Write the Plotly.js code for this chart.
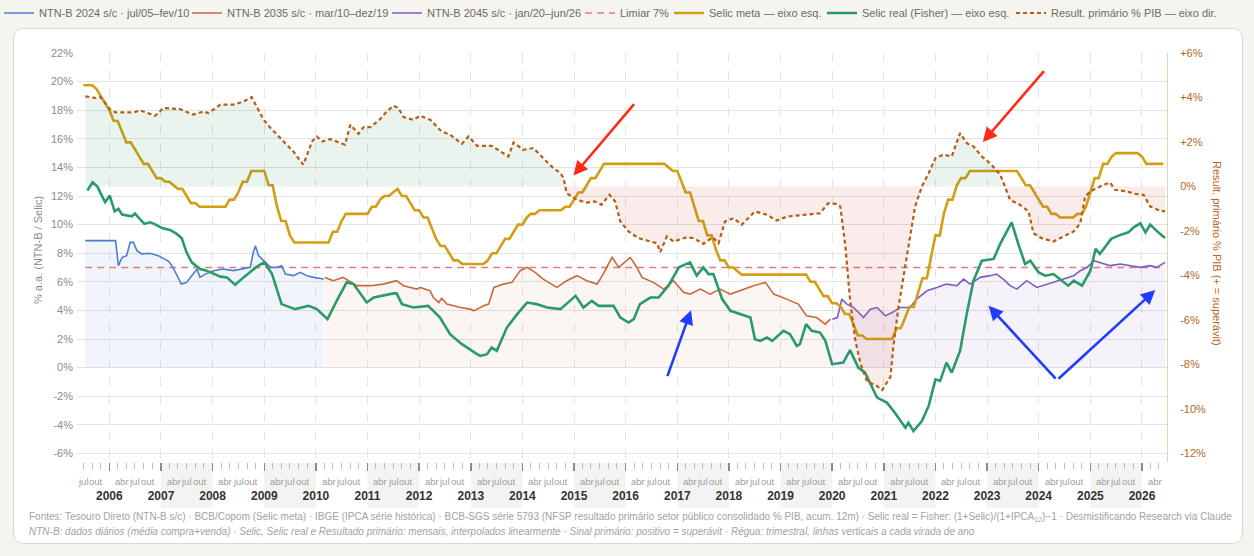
<!DOCTYPE html>
<html><head><meta charset="utf-8">
<script src="https://cdn.plot.ly/plotly-3.0.1.min.js"></script>
<style>
html,body{margin:0;padding:0;background:#f5f4ef;}
#wrap{position:relative;width:1254px;height:556px;overflow:hidden;}
#card{position:absolute;left:13px;top:28px;width:1230px;height:516px;background:#fff;border:1px solid #dcdad2;border-radius:10px;box-sizing:border-box;}
#chart{position:absolute;left:0;top:0;width:1254px;height:556px;}
</style></head>
<body><div id="wrap"><div id="card"></div><div id="chart"></div></div>
<script>
// ---------------- DATA ----------------
const X_RANGE = ['2005-05-17', '2026-06-27'];

// Selic meta, monthly from 2005-07
const selicStartYear = 2005, selicStartMonth = 7;
const selicMeta = [
  19.75,19.75,19.75,19.50,19.00,18.50,
  18.00,17.25,17.25,16.50,15.75,15.75,15.25,14.75,14.25,14.25,13.75,13.25,
  13.25,13.00,13.00,12.75,12.50,12.50,12.00,11.50,11.50,11.25,11.25,11.25,
  11.25,11.25,11.25,11.25,11.75,11.75,12.25,13.00,13.00,13.75,13.75,13.75,
  13.75,12.75,12.75,11.25,10.25,10.25,9.25,8.75,8.75,8.75,8.75,8.75,
  8.75,8.75,8.75,8.75,9.50,9.50,10.25,10.75,10.75,10.75,10.75,10.75,
  10.75,11.25,11.25,11.75,12.00,12.00,12.25,12.50,12.00,12.00,11.50,11.00,
  11.00,10.50,10.50,9.75,9.00,8.50,8.50,8.00,7.50,7.50,7.25,7.25,
  7.25,7.25,7.25,7.25,7.50,8.00,8.00,8.50,9.00,9.00,9.50,10.00,
  10.00,10.50,10.75,10.75,11.00,11.00,11.00,11.00,11.00,11.00,11.25,11.25,
  11.75,12.25,12.25,12.75,13.25,13.25,13.75,14.25,14.25,14.25,14.25,14.25,
  14.25,14.25,14.25,14.25,14.25,14.25,14.25,14.25,14.25,14.25,14.00,13.75,
  13.75,13.00,12.25,12.25,11.25,10.25,10.25,9.25,9.25,8.25,7.50,7.50,
  7.00,7.00,6.75,6.50,6.50,6.50,6.50,6.50,6.50,6.50,6.50,6.50,
  6.50,6.50,6.50,6.50,6.50,6.50,6.50,6.00,6.00,5.50,5.00,5.00,
  4.50,4.50,4.25,3.75,3.75,3.00,2.25,2.25,2.00,2.00,2.00,2.00,
  2.00,2.00,2.00,2.75,2.75,3.50,4.25,4.25,5.25,6.25,6.25,7.75,
  9.25,9.25,10.75,11.75,11.75,12.75,13.25,13.25,13.75,13.75,13.75,13.75,
  13.75,13.75,13.75,13.75,13.75,13.75,13.75,13.75,13.25,12.75,12.75,12.25,
  11.75,11.25,11.25,10.75,10.75,10.50,10.50,10.50,10.50,10.75,10.75,11.25,
  12.25,13.25,13.25,14.25,14.25,14.75,15.00,15.00,15.00,15.00,15.00,15.00,
  14.75,14.25,14.25,14.25,14.25,14.25
];

// Selic real (Fisher)
const realDates = ['2005-07-29','2005-09-05','2005-10-08','2005-12-02','2006-01-04','2006-02-07','2006-03-06','2006-04-01','2006-06-09','2006-07-01','2006-09-05','2006-10-15','2006-11-14','2007-01-08','2007-03-06','2007-04-22','2007-05-28','2007-07-01','2007-08-07','2007-10-04','2007-11-21','2008-02-25','2008-04-11','2008-06-09','2008-08-07','2008-11-10','2009-01-01','2009-02-25','2009-05-03','2009-07-04','2009-08-07','2009-11-10','2010-01-08','2010-03-24','2010-04-22','2010-06-09','2010-08-07','2010-09-24','2010-12-27','2011-02-14','2011-07-04','2011-07-26','2011-09-02','2011-11-21','2012-03-06','2012-05-28','2012-08-07','2012-10-30','2013-02-14','2013-03-09','2013-04-26','2013-05-28','2013-07-04','2013-09-13','2013-11-25','2014-02-03','2014-04-11','2014-06-24','2014-09-27','2015-01-12','2015-03-09','2015-05-07','2015-06-24','2015-10-08','2015-11-25','2016-01-22','2016-02-28','2016-04-11','2016-06-24','2016-08-21','2016-10-30','2017-01-12','2017-04-01','2017-05-18','2017-07-04','2017-08-10','2017-09-13','2017-11-14','2018-01-12','2018-03-20','2018-06-02','2018-07-04','2018-08-10','2018-09-27','2018-11-03','2019-01-22','2019-03-09','2019-04-26','2019-05-18','2019-07-01','2019-08-10','2019-10-08','2019-11-14','2020-01-01','2020-03-20','2020-05-07','2020-07-04','2020-08-21','2020-11-14','2021-01-22','2021-03-20','2021-06-02','2021-06-24','2021-07-29','2021-09-27','2021-11-14','2022-01-01','2022-02-03','2022-03-20','2022-04-26','2022-06-24','2022-08-10','2022-09-27','2022-11-25','2023-02-17','2023-04-04','2023-05-07','2023-06-24','2023-08-10','2023-09-27','2023-11-03','2024-01-01','2024-02-17','2024-04-15','2024-06-13','2024-07-29','2024-09-05','2024-11-03','2025-01-01','2025-02-07','2025-03-09','2025-04-15','2025-05-28','2025-07-19','2025-09-27','2025-11-03','2025-12-20','2026-01-26','2026-02-28','2026-04-26','2026-06-13'];
const realValues = [12.38,12.96,12.66,11.56,12.03,10.93,11.10,10.70,10.58,10.77,10.05,10.16,10.05,9.77,9.63,9.35,9.04,8.06,7.36,6.90,6.78,6.36,6.31,5.80,6.31,7.06,7.36,6.54,4.44,4.20,4.09,4.32,4.09,3.39,3.97,4.90,5.96,5.84,4.55,4.90,5.19,5.19,4.44,4.20,4.32,3.50,2.34,1.64,0.94,0.82,0.94,1.40,1.17,2.80,3.74,4.55,4.44,4.20,4.09,5.02,4.20,4.67,4.32,4.32,3.50,3.15,3.39,4.44,4.90,4.90,5.73,7.01,7.36,6.43,7.01,6.54,6.54,4.79,3.97,3.74,3.50,1.99,1.87,2.10,1.87,2.57,2.34,1.52,1.64,3.04,2.57,2.45,1.87,0.24,0.35,1.22,0.00,-0.35,-2.10,-2.45,-3.15,-4.20,-3.85,-4.44,-3.74,-2.68,-0.82,-0.93,0.35,-0.35,1.17,3.74,6.08,7.48,7.60,8.65,9.23,10.16,8.65,7.25,7.48,6.66,6.43,6.54,6.08,5.73,6.08,5.73,6.78,8.30,7.95,8.41,9.00,9.23,9.46,9.81,10.09,9.46,10.00,9.46,9.07];

// Resultado primário % PIB (eixo dir.)
const primDates = ['2005-07-15','2005-09-24','2005-10-30','2006-01-08','2006-02-14','2006-06-20','2006-08-07','2006-09-24','2006-11-21','2007-01-19','2007-05-14','2007-08-18','2007-10-30','2007-12-02','2008-02-25','2008-05-28','2008-08-07','2008-10-04','2008-12-27','2009-02-14','2009-05-18','2009-07-26','2009-10-04','2009-12-05','2010-01-08','2010-02-14','2010-04-11','2010-07-26','2010-09-02','2010-10-30','2010-12-05','2011-01-22','2011-04-01','2011-05-18','2011-07-04','2011-08-07','2011-09-13','2011-11-21','2012-01-08','2012-03-20','2012-06-09','2012-08-07','2012-10-30','2012-12-16','2013-02-14','2013-05-28','2013-09-24','2013-10-30','2014-01-08','2014-03-20','2014-05-28','2014-07-26','2014-09-27','2014-10-19','2014-11-10','2015-01-22','2015-04-01','2015-05-28','2015-07-15','2015-09-09','2015-10-19','2015-11-25','2016-01-22','2016-04-01','2016-06-24','2016-08-10','2016-09-02','2016-10-19','2016-12-05','2017-03-09','2017-04-26','2017-07-04','2017-09-09','2017-10-19','2017-12-05','2018-02-03','2018-04-01','2018-07-04','2018-09-27','2018-12-05','2019-02-17','2019-06-13','2019-10-08','2019-12-05','2020-02-03','2020-02-28','2020-04-04','2020-05-07','2020-06-13','2020-07-19','2020-09-05','2020-11-03','2020-12-20','2021-02-17','2021-03-09','2021-04-15','2021-05-21','2021-06-24','2021-08-10','2021-09-27','2021-11-14','2022-01-01','2022-02-28','2022-04-26','2022-06-24','2022-08-10','2022-09-27','2022-11-25','2023-01-22','2023-04-04','2023-05-07','2023-06-13','2023-08-21','2023-10-22','2023-11-25','2024-01-22','2024-04-15','2024-06-24','2024-09-05','2024-10-22','2024-11-25','2025-01-01','2025-02-17','2025-04-04','2025-05-21','2025-06-24','2025-09-16','2025-11-14','2026-01-12','2026-02-28','2026-05-07','2026-06-13'];
const primValues = [4.05,3.98,4.02,3.45,3.33,3.33,3.42,3.30,3.18,3.53,3.48,3.23,3.37,3.30,3.68,3.68,3.82,4.02,3.00,2.63,2.02,1.57,0.98,2.02,2.25,2.02,2.13,1.88,2.78,2.37,2.67,2.67,3.03,3.37,3.63,3.53,3.12,3.00,3.18,3.00,2.47,2.33,1.92,2.25,1.83,1.83,1.35,1.98,1.65,1.73,1.28,0.90,0.60,0.38,-0.30,-0.60,-0.72,-0.67,-0.82,-0.37,-0.67,-1.57,-2.02,-2.32,-2.47,-2.55,-2.95,-2.25,-2.47,-2.28,-2.32,-2.58,-2.28,-2.55,-1.57,-1.42,-1.72,-1.12,-1.27,-1.53,-1.35,-1.27,-1.20,-0.75,-0.78,-0.90,-2.70,-5.10,-6.90,-7.95,-8.77,-8.92,-9.15,-8.55,-7.20,-5.40,-3.90,-2.70,-0.90,0.00,0.60,1.28,1.43,1.35,2.40,1.95,1.80,1.35,1.05,0.53,0.00,-0.60,-0.82,-1.12,-2.10,-2.32,-2.47,-2.25,-2.02,-1.65,-0.45,-0.22,-0.07,0.08,0.18,-0.15,-0.22,-0.33,-0.37,-0.90,-1.08,-1.12];

// NTN-B 2024 s/c (jul/05–fev/10)
const ntnb24Dates = ['2005-07-14','2006-02-14','2006-03-06','2006-04-01','2006-05-03','2006-05-28','2006-06-20','2006-07-15','2006-08-18','2006-10-15','2006-12-13','2007-02-25','2007-03-27','2007-05-04','2007-05-25','2007-07-01','2007-08-18','2007-09-13','2007-10-04','2007-11-10','2008-01-08','2008-03-17','2008-05-28','2008-08-07','2008-09-24','2008-10-15','2008-10-30','2008-11-21','2008-12-27','2009-02-14','2009-04-01','2009-05-03','2009-05-30','2009-07-26','2009-09-13','2009-10-30','2009-12-16','2010-02-14','2010-02-26'];
const ntnb24Values = [8.88,8.88,7.13,7.71,7.83,8.76,8.76,8.18,7.95,7.99,7.83,7.43,7.01,6.19,5.84,5.96,6.54,6.90,6.31,6.54,6.78,6.90,6.78,6.90,7.01,8.06,8.53,7.83,7.48,7.01,7.01,7.13,6.54,6.43,6.66,6.43,6.31,6.19,6.20];

// NTN-B 2035 s/c (mar/10–dez/19)
const ntnb35Dates = ['2010-03-05','2010-05-04','2010-07-12','2010-10-19','2011-01-22','2011-04-22','2011-07-26','2011-09-13','2011-12-16','2012-01-08','2012-03-20','2012-04-11','2012-05-20','2012-06-09','2012-07-16','2012-09-02','2012-10-19','2012-12-28','2013-01-22','2013-04-01','2013-05-07','2013-06-13','2013-08-21','2013-10-19','2013-12-16','2014-02-03','2014-04-01','2014-05-28','2014-09-02','2014-11-10','2015-01-22','2015-04-01','2015-06-13','2015-07-26','2015-09-27','2015-11-14','2016-02-03','2016-03-20','2016-04-26','2016-07-15','2016-09-27','2016-12-05','2017-02-14','2017-04-01','2017-06-13','2017-08-21','2017-10-30','2018-01-12','2018-03-20','2018-06-24','2018-09-16','2018-11-14','2019-02-14','2019-05-07','2019-07-04','2019-09-13','2019-11-14','2019-12-20'];
const ntnb35Values = [6.31,6.08,6.31,5.73,5.73,5.84,6.08,5.73,5.49,5.61,5.37,4.90,4.55,4.85,4.44,4.32,4.20,4.09,3.97,4.32,4.44,5.61,5.84,5.96,6.78,7.01,6.66,6.19,5.61,6.08,6.43,6.08,5.84,6.54,7.71,7.01,7.71,7.01,6.31,5.96,5.49,6.08,5.26,5.14,5.49,5.14,5.49,5.14,5.37,5.73,5.96,5.14,4.79,4.44,3.62,3.50,3.04,3.39];

// NTN-B 2045 s/c (jan/20–jun/26)
const ntnb45Dates = ['2020-01-02','2020-02-07','2020-03-09','2020-04-15','2020-06-02','2020-07-19','2020-08-10','2020-09-27','2020-11-14','2021-01-12','2021-02-28','2021-04-26','2021-07-04','2021-08-21','2021-11-02','2022-01-12','2022-03-20','2022-06-02','2022-07-19','2022-09-02','2022-11-14','2023-01-22','2023-03-09','2023-04-26','2023-06-13','2023-07-31','2023-10-08','2023-12-20','2024-02-28','2024-05-07','2024-07-19','2024-09-05','2024-10-22','2024-12-09','2025-01-26','2025-03-09','2025-05-21','2025-07-31','2025-10-08','2025-12-20','2026-02-28','2026-04-15','2026-06-13'];
const ntnb45Values = [3.39,3.50,4.79,4.44,4.20,3.74,3.50,4.09,4.20,3.62,3.85,4.20,4.20,4.79,5.37,5.61,5.84,5.73,6.19,5.84,6.31,6.43,6.54,6.19,5.73,5.49,6.08,5.61,5.84,6.08,6.31,6.43,6.78,7.01,7.48,7.36,7.13,7.25,7.13,7.01,7.13,7.01,7.36];

const limiar = 7;
const leftTicks = [-6,-4,-2,0,2,4,6,8,10,12,14,16,18,20,22];
const rightTicks = [-12,-10,-8,-6,-4,-2,0,2,4,6];
const monthLabels = [[4,'abr'],[7,'jul'],[10,'out']];
const shadedYears = [2007,2009,2011,2013,2015,2017,2019,2021,2023,2025];

// Hand-drawn arrows: [tailDate, tailValue, headDate, headValue, color]
const arrows = [
  ['2016-03-10', 18.53, '2014-12-28', 13.43, '#ff2b18'],
  ['2024-02-17', 20.84, '2022-12-02', 15.77, '#ff2b18'],
  ['2016-10-19', -0.70, '2017-04-08', 4.02, '#1f3cff'],
  ['2024-05-10', -0.88, '2023-01-12', 4.32, '#1f3cff'],
  ['2024-05-10', -0.88, '2026-04-05', 5.42, '#1f3cff']
];

const names = {
  n24: 'NTN-B 2024 s/c · jul/05–fev/10',
  n35: 'NTN-B 2035 s/c · mar/10–dez/19',
  n45: 'NTN-B 2045 s/c · jan/20–jun/26',
  lim: 'Limiar 7%',
  selic: 'Selic meta — eixo esq.',
  real: 'Selic real (Fisher) — eixo esq.',
  prim: 'Result. primário % PIB — eixo dir.'
};
const colors = {
  n24: '#4a7fd0', n35: '#c9673b', n45: '#7d5cc2', lim: '#e27d7d',
  selic: '#d19e14', real: '#2b9a69', prim: '#b55f16', rightAxis: '#b8651e'
};

// ---------------- BUILD ----------------
function monthDates(y, m, n) {
  const out = [];
  for (let i = 0; i < n; i++) {
    const yy = y + Math.floor((m - 1 + i) / 12);
    const mm = (m - 1 + i) % 12 + 1;
    out.push(yy + '-' + String(mm).padStart(2, '0') + '-01');
  }
  return out;
}
const selicDates = monthDates(selicStartYear, selicStartMonth, selicMeta.length);
const primPos = primValues.map(v => Math.max(v, 0));
const primNeg = primValues.map(v => Math.min(v, 0));

const fillTrace = (x, y, color, yaxis) => ({
  x, y, type: 'scatter', mode: 'lines', fill: 'tozeroy', fillcolor: color,
  line: {width: 0, color: 'rgba(0,0,0,0)'}, showlegend: false, hoverinfo: 'skip', yaxis: yaxis || 'y'
});

const traces = [
  fillTrace(primDates, primPos, 'rgba(46,150,100,0.10)', 'y2'),
  fillTrace(primDates, primNeg, 'rgba(200,85,60,0.11)', 'y2'),
  fillTrace(ntnb24Dates, ntnb24Values, 'rgba(74,127,208,0.08)'),
  fillTrace(ntnb35Dates, ntnb35Values, 'rgba(201,103,59,0.06)'),
  fillTrace(ntnb45Dates, ntnb45Values, 'rgba(125,92,194,0.08)'),
  {x: [ntnb24Dates[0], ntnb45Dates[ntnb45Dates.length - 1]], y: [limiar, limiar], type: 'scatter', mode: 'lines',
   name: names.lim, legend: 'legend4', line: {color: colors.lim, width: 1.3, dash: '7px,5px'}},
  {x: ntnb24Dates, y: ntnb24Values, type: 'scatter', mode: 'lines', name: names.n24, legend: 'legend',
   line: {color: colors.n24, width: 1.6}},
  {x: ntnb35Dates, y: ntnb35Values, type: 'scatter', mode: 'lines', name: names.n35, legend: 'legend2',
   line: {color: colors.n35, width: 1.6}},
  {x: ntnb45Dates, y: ntnb45Values, type: 'scatter', mode: 'lines', name: names.n45, legend: 'legend3',
   line: {color: colors.n45, width: 1.6}},
  {x: selicDates, y: selicMeta, type: 'scatter', mode: 'lines', name: names.selic, legend: 'legend5',
   line: {color: colors.selic, width: 2.6}},
  {x: realDates, y: realValues, type: 'scatter', mode: 'lines', name: names.real, legend: 'legend6',
   line: {color: colors.real, width: 2.6}},
  {x: primDates, y: primValues, type: 'scatter', mode: 'lines', name: names.prim, legend: 'legend7', yaxis: 'y2',
   line: {color: colors.prim, width: 2.2, dash: '4px,3px'}}
];

// plot geometry (px) used to place texts outside plot
const L = 77, R = 87, T = 53, B = 94, W = 1254, H = 556;
const PW = W - L - R, PH = H - T - B;
const px2x = p => (p - L) / PW;
const px2y = p => (H - B - p) / PH;

const legendTextStarts = [39, 227, 427, 620, 709, 862, 1051];
const legendIds = ['legend','legend2','legend3','legend4','legend5','legend6','legend7'];

const layout = {
  width: W, height: H,
  margin: {l: L, r: R, t: T, b: B, pad: 0, autoexpand: false},
  paper_bgcolor: 'rgba(0,0,0,0)', plot_bgcolor: 'rgba(0,0,0,0)',
  font: {family: '"Liberation Sans", Arial, Helvetica, sans-serif', size: 11, color: '#666'},
  hovermode: false,
  xaxis: {
    type: 'date', range: X_RANGE, tickmode: 'linear', tick0: '2006-01-01', dtick: 'M12', tickformat: '%Y',
    ticks: 'outside', ticklen: 8, tickwidth: 1.5, tickcolor: '#8a8a8a',
    showgrid: true, gridcolor: '#e4e4e4', griddash: 'dash', gridwidth: 1,
    showline: false, zeroline: false, ticklabelstandoff: 15,
    tickfont: {size: 12, weight: 700, color: '#333'},
    minor: {tick0: '2006-01-01', dtick: 'M2', ticks: 'outside', ticklen: 6, tickwidth: 1, tickcolor: '#bdbdbd', showgrid: false}
  },
  yaxis: {
    range: [-6.6, 22], tickmode: 'array', tickvals: leftTicks, ticktext: leftTicks.map(v => v + '%'),
    showgrid: true, gridcolor: '#e3e3e3', gridwidth: 1, zeroline: false, showline: false,
    tickfont: {size: 11, color: '#8c8c8c'}, ticklabelstandoff: 3
  },
  yaxis2: {
    overlaying: 'y', side: 'right', range: [-12.38, 6], tickmode: 'array', tickvals: rightTicks,
    ticktext: rightTicks.map(v => (v > 0 ? '+' : '') + v + '%'),
    showgrid: false, zeroline: false, showline: true, linecolor: '#e8d2b0', linewidth: 1,
    tickfont: {size: 11, color: colors.rightAxis}, ticklabelstandoff: 10
  },
  shapes: shadedYears.map(y => ({
    type: 'rect', xref: 'x', yref: 'paper', x0: y + '-01-01', x1: (y + 1) + '-01-01',
    y0: px2y(508), y1: px2y(463), fillcolor: '#f3f3f1', line: {width: 0}, layer: 'below'
  })),
  annotations: []
};

legendIds.forEach((id, i) => {
  layout[id] = {
    xref: 'paper', yref: 'paper', x: px2x(legendTextStarts[i] - 40), y: px2y(13),
    xanchor: 'left', yanchor: 'middle', orientation: 'h', bgcolor: 'rgba(0,0,0,0)', borderwidth: 0,
    font: {size: 11, color: '#6b6b6b'}, itemwidth: 30
  };
});

// month labels of the ruler
const x0 = new Date(X_RANGE[0]), x1 = new Date(X_RANGE[1]);
for (let y = 2005; y <= 2026; y++) {
  monthLabels.forEach(([m, lab]) => {
    const d = y + '-' + String(m).padStart(2, '0') + '-01';
    const dd = new Date(d);
    if (dd >= x0 && dd <= x1) {
      layout.annotations.push({x: d, xref: 'x', y: px2y(481), yref: 'paper', text: lab, showarrow: false,
        xanchor: 'center', yanchor: 'middle', font: {size: 9.5, color: '#9d9d9d'}});
    }
  });
}

// axis titles
layout.annotations.push({x: px2x(38), y: px2y(250), xref: 'paper', yref: 'paper', text: '% a.a. (NTN-B / Selic)',
  textangle: -90, showarrow: false, font: {size: 11, color: '#8c8c8c'}, xanchor: 'center', yanchor: 'middle'});
layout.annotations.push({x: px2x(1217), y: px2y(253), xref: 'paper', yref: 'paper', text: 'Result. primário % PIB (+ = superávit)',
  textangle: 90, showarrow: false, font: {size: 11, color: colors.rightAxis}, xanchor: 'center', yanchor: 'middle'});

// footer
layout.annotations.push({x: px2x(27), y: px2y(517), xref: 'paper', yref: 'paper', xanchor: 'left', yanchor: 'middle', showarrow: false,
  font: {size: 10, color: '#a2a2a2'},
  text: 'Fontes: Tesouro Direto (NTN-B s/c) · BCB/Copom (Selic meta) · IBGE (IPCA série histórica) · BCB-SGS série 5793 (NFSP resultado primário setor público consolidado % PIB, acum. 12m) · Selic real = Fisher: (1+Selic)/(1+IPCA<sub>12</sub>)−1 · Desmistificando Research via Claude'});
layout.annotations.push({x: px2x(27), y: px2y(531), xref: 'paper', yref: 'paper', xanchor: 'left', yanchor: 'middle', showarrow: false,
  font: {size: 10, color: '#a2a2a2'},
  text: '<i>NTN-B: dados diários (média compra+venda) · Selic, Selic real e Resultado primário: mensais, interpolados linearmente · Sinal primário: positivo = superávit · Régua: trimestral, linhas verticais a cada virada de ano</i>'});

// arrows
arrows.forEach(([tx, tv, hx, hv, c]) => {
  layout.annotations.push({x: hx, y: hv, xref: 'x', yref: 'y', ax: tx, ay: tv, axref: 'x', ayref: 'y',
    text: '', showarrow: true, arrowhead: 2, arrowsize: 1.1, arrowwidth: 2.6, arrowcolor: c, standoff: 0, startstandoff: 0});
});

Plotly.newPlot('chart', traces, layout, {displayModeBar: false, staticPlot: true});
</script></body></html>
